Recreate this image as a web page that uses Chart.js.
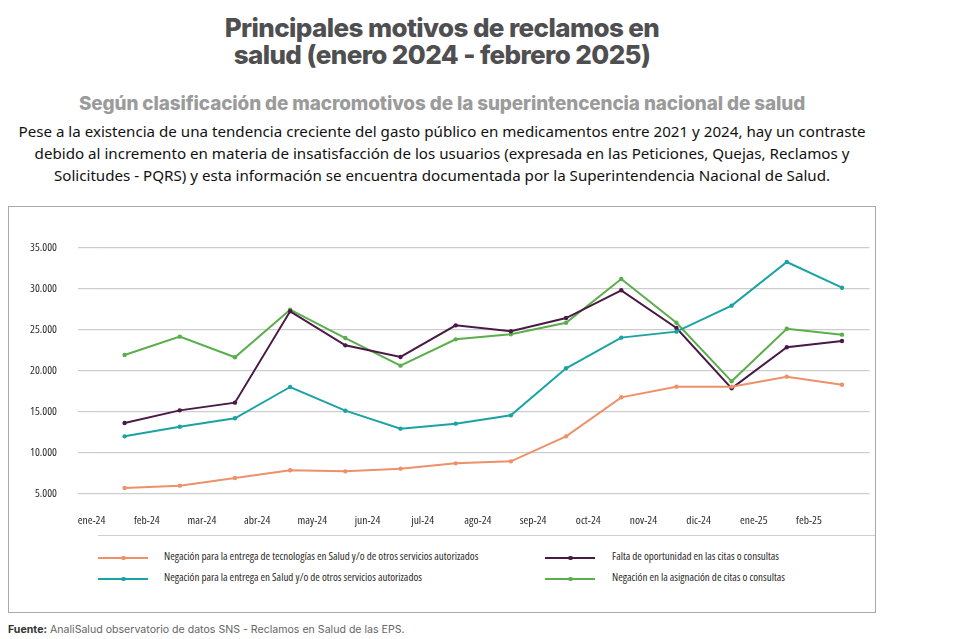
<!DOCTYPE html>
<html lang="es">
<head>
<meta charset="utf-8">
<title>Principales motivos de reclamos en salud</title>
<script src="https://cdn.jsdelivr.net/npm/chart.js@4.4.1/dist/chart.umd.min.js"></script>
<style>
  html, body { margin: 0; padding: 0; background: #fff; }
  body { width: 953px; height: 639px; position: relative; overflow: hidden; font-family: "Noto Sans", sans-serif; }
  h1 { position: absolute; left: 0; width: 884px; top: 14px; margin: 0; text-align: center;
       font-family: Inter, sans-serif; font-weight: 800; font-size: 26px; line-height: 27px;
       letter-spacing: -0.6px; color: #4f4f52; }
  h2 { position: absolute; left: 0; width: 884px; top: 93px; margin: 0; text-align: center;
       font-family: Inter, sans-serif; font-weight: 800; font-size: 18.9px; line-height: 22px;
       letter-spacing: -0.1px; color: #9b9b9b; }
  p.intro { position: absolute; left: 0; width: 884px; top: 120px; margin: 0; text-align: center;
       font-size: 15.15px; line-height: 22px; color: #111; }
  .box { position: absolute; left: 8px; top: 206px; width: 866px; height: 405px; border: 1px solid #a9a9a9; }
  #chart { position: absolute; left: 0; top: 0; }
  .sep { position: absolute; left: 89px; right: 0; top: 328px; height: 1px; background: #cfcfcf; }
  #legend { position: absolute; left: 0; top: 0; }
  .item { position: absolute; height: 14px; font-family: "Open Sans", sans-serif; font-stretch: condensed;
          font-size: 11px; color: #2b2b2b; white-space: nowrap; }
  .item .mk { position: absolute; left: 0; top: 7px; width: 50px; height: 1.5px; }
  .item .mk i { position: absolute; left: 23px; top: -1.5px; width: 4.5px; height: 4.5px; border-radius: 50%; }
  .item span.t { position: absolute; top: -2px; }
  .src { position: absolute; left: 8px; top: 623px; font-family: Inter, sans-serif; font-size: 10.6px; color: #666; }
  .src b { color: #333; font-weight: 700; }
</style>
</head>
<body>
<h1>Principales motivos de reclamos en<br>salud (enero 2024 - febrero 2025)</h1>
<h2>Según clasificación de macromotivos de la superintencencia nacional de salud</h2>
<p class="intro">Pese a la existencia de una tendencia creciente del gasto público en medicamentos entre 2021 y 2024, hay un contraste<br>debido al incremento en materia de insatisfacción de los usuarios (expresada en las Peticiones, Quejas, Reclamos y<br>Solicitudes - PQRS) y esta información se encuentra documentada por la Superintendencia Nacional de Salud.</p>
<div class="box">
  <canvas id="chart" width="866" height="330"></canvas>
  <div class="sep"></div>
  <div id="legend"></div>
</div>
<div class="src"><b>Fuente:</b> AnaliSalud observatorio de datos SNS - Reclamos en Salud de las EPS.</div>

<script>
const months = ['ene-24', 'feb-24', 'mar-24', 'abr-24', 'may-24', 'jun-24', 'jul-24',
                'ago-24', 'sep-24', 'oct-24', 'nov-24', 'dic-24', 'ene-25', 'feb-25'];

const negTecnologias = [5730, 6020, 6950, 7890, 7760, 8090, 8740, 8980, 12030, 16790, 18090, 18090, 19310, 18330];
const negEntrega     = [12030, 13210, 14230, 18050, 15160, 12970, 13580, 14590, 20330, 24070, 24800, 27970, 33290, 30160];
const faltaOportun   = [13660, 15200, 16140, 27280, 23130, 21710, 25570, 24840, 26460, 29840, 25240, 17890, 22890, 23660];
const negAsignacion  = [21950, 24190, 21670, 27480, 24020, 20650, 23860, 24470, 25890, 31220, 25890, 18740, 25160, 24430];

const yTicks = [5000, 10000, 15000, 20000, 25000, 30000, 35000];

// "condensed" va en weight para que acabe en la cadena de fuente del canvas
const tickFont = { family: '"Open Sans", sans-serif', size: 11.5, weight: 'condensed' };

function serie(label, data, color) {
    return {
        label: label,
        data: data,
        borderColor: color,
        backgroundColor: color,
        borderWidth: 2,
        pointRadius: 2.2,
        pointHoverRadius: 3,
        pointBorderWidth: 0,
        tension: 0,
        fill: false
    };
}

const ctx = document.getElementById('chart').getContext('2d');
const chart = new Chart(ctx, {
    type: 'line',
    data: {
        labels: months,
        datasets: [
            serie('Negación para la entrega de tecnologías en Salud y/o de otros servicios autorizados', negTecnologias, '#ec9169'),
            serie('Negación para la entrega en Salud y/o de otros servicios autorizados', negEntrega, '#1ba3a4'),
            serie('Falta de oportunidad en las citas o consultas', faltaOportun, '#4a1a45'),
            serie('Negación en la asignación de citas o consultas', negAsignacion, '#5cae4d')
        ]
    },
    options: {
        responsive: false,
        animation: false,
        layout: { padding: { top: 41, right: 0, left: 0, bottom: 0 } },
        plugins: {
            legend: { display: false },
            tooltip: { enabled: false }
        },
        scales: {
            x: {
                offset: true,
                grid: { display: false, drawTicks: false },
                border: { display: false },
                ticks: {
                    labelOffset: -33,
                    padding: 20,
                    maxRotation: 0,
                    autoSkip: false,
                    color: '#2b2b2b',
                    font: tickFont
                },
                afterFit: function (scale) { scale.height = 43; }
            },
            y: {
                min: 5000,
                max: 35000,
                afterBuildTicks: function (scale) {
                    scale.ticks = yTicks.map(v => ({ value: v }));
                },
                grid: { color: '#cdcdcd', lineWidth: 1.2, tickLength: 19 },
                border: { display: false },
                ticks: {
                    padding: 21,
                    color: '#2b2b2b',
                    font: tickFont,
                    callback: v => v.toLocaleString('de-DE')
                },
                afterFit: function (scale) { scale.width = 88; }
            }
        }
    }
});

// leyenda en dos columnas, como la del original
const legendPos = [
    { x: 89, y: 343 },
    { x: 89, y: 364 },
    { x: 536, y: 343 },
    { x: 536, y: 364 }
];
const legend = document.getElementById('legend');
chart.data.datasets.forEach((ds, i) => {
    const it = document.createElement('div');
    it.className = 'item';
    it.style.left = legendPos[i].x + 'px';
    it.style.top = legendPos[i].y + 'px';
    const textLeft = i < 2 ? 66 : 67;
    it.innerHTML = '<div class="mk" style="background:' + ds.borderColor + '"><i style="background:' +
        ds.borderColor + '"></i></div><span class="t" style="left:' + textLeft + 'px">' + ds.label + '</span>';
    legend.appendChild(it);
});
</script>
</body>
</html>
